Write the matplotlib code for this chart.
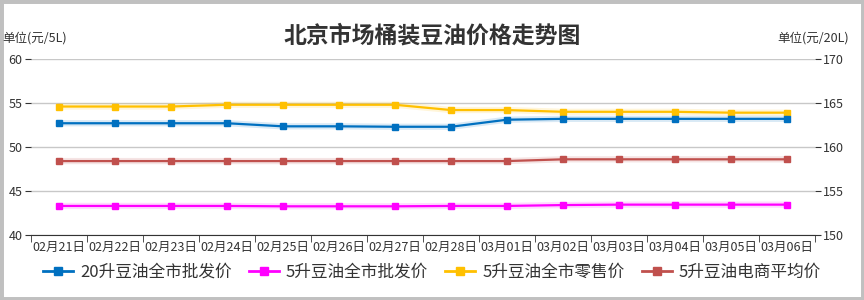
import numpy as np
import matplotlib
matplotlib.use('Agg')
import matplotlib.pyplot as plt
from matplotlib.lines import Line2D
from matplotlib.patches import Rectangle

plt.rcParams['font.family'] = ['Noto Sans CJK SC', 'DejaVu Sans']
plt.rcParams['axes.unicode_minus'] = False

dates = ['02月21日', '02月22日', '02月23日', '02月24日', '02月25日', '02月26日', '02月27日',
         '02月28日', '03月01日', '03月02日', '03月03日', '03月04日', '03月05日', '03月06日']

# 20L wholesale uses the right axis (元/20L), others the left axis (元/5L)
wholesale_20l = [162.7, 162.7, 162.7, 162.7, 162.35, 162.35, 162.3,
                 162.3, 163.1, 163.2, 163.2, 163.2, 163.2, 163.2]
wholesale_5l = [43.3, 43.3, 43.3, 43.3, 43.26, 43.26, 43.26,
                43.3, 43.3, 43.4, 43.45, 43.45, 43.45, 43.45]
retail_5l = [54.6, 54.6, 54.6, 54.8, 54.8, 54.8, 54.8,
             54.2, 54.2, 54.0, 54.0, 54.0, 53.9, 53.9]
ecommerce_5l = [48.4, 48.4, 48.4, 48.4, 48.4, 48.4, 48.4,
                48.4, 48.4, 48.6, 48.6, 48.6, 48.6, 48.6]

names = ['20升豆油全市批发价', '5升豆油全市批发价', '5升豆油全市零售价', '5升豆油电商平均价']
colors = ['#0070C0', '#FF00FF', '#FFC000', '#C0504D']

fig = plt.figure(figsize=(8.64, 3.0), dpi=100)
ax = fig.add_axes([0.0359, 0.2167, 0.9071, 0.5866])
ax2 = ax.twinx()

x = np.arange(len(dates))


def draw(a, vals, c):
    a.plot(x, vals, color=c, lw=4.5, alpha=0.15, solid_capstyle='round', zorder=2)
    a.plot(x, vals, color=c, lw=1.6, marker='s', ms=4.5, zorder=3)


draw(ax, wholesale_5l, colors[1])
draw(ax, retail_5l, colors[2])
draw(ax, ecommerce_5l, colors[3])
draw(ax2, wholesale_20l, colors[0])

ax.set_xlim(-0.5, len(dates) - 0.5)
ax.set_ylim(40, 60)
ax2.set_ylim(150, 170)
ax.set_yticks([40, 45, 50, 55, 60])
ax2.set_yticks([150, 155, 160, 165, 170])
ax.grid(axis='y', color='#c8c8c8', lw=1)
ax.set_axisbelow(True)

for a in (ax, ax2):
    for s in ['top', 'left', 'right']:
        a.spines[s].set_visible(False)
    a.spines['bottom'].set_color('#333333')
ax2.spines['bottom'].set_visible(False)

ax.set_xticks(x)
ax.set_xticklabels(dates, fontsize=9, color='#333333')
ax.set_xticks(np.arange(len(dates) + 1) - 0.5, minor=True)
ax.tick_params(axis='x', which='major', length=0, pad=4)
ax.tick_params(axis='x', which='minor', length=5, color='#333333')
ax.tick_params(axis='y', length=4, color='#333333', labelsize=9, labelcolor='#333333', pad=2)
ax2.tick_params(axis='y', length=4, color='#333333', labelsize=9, labelcolor='#333333', pad=2)

fig.text(0.5, 0.88, '北京市场桶装豆油价格走势图', ha='center', va='center',
         fontsize=16.5, fontweight='bold', color='#333333')
fig.text(0.003, 0.873, '单位(元/5L)', ha='left', va='center', fontsize=9, color='#333333')
fig.text(0.983, 0.873, '单位(元/20L)', ha='right', va='center', fontsize=9, color='#333333')

handles = []
for n, c in zip(names, colors):
    handles.append(Line2D([0], [0], color=c, alpha=0.5, lw=2, marker='s', ms=6,
                          markerfacecolor=c, markeredgecolor=c))
leg = fig.legend(handles, names, loc='center', bbox_to_anchor=(0.5, 0.093), ncol=4,
                 frameon=False, fontsize=12, handlelength=1.8, handletextpad=0.4,
                 columnspacing=1.05)
for t in leg.get_texts():
    t.set_color('#333333')
for lh in leg.legend_handles:
    lh.set_alpha(None)

fig.patches.append(Rectangle((0, 0), 1, 1, transform=fig.transFigure, fill=False,
                             edgecolor='#c0c0c0', lw=5))

fig.savefig('out.png', dpi=100)
